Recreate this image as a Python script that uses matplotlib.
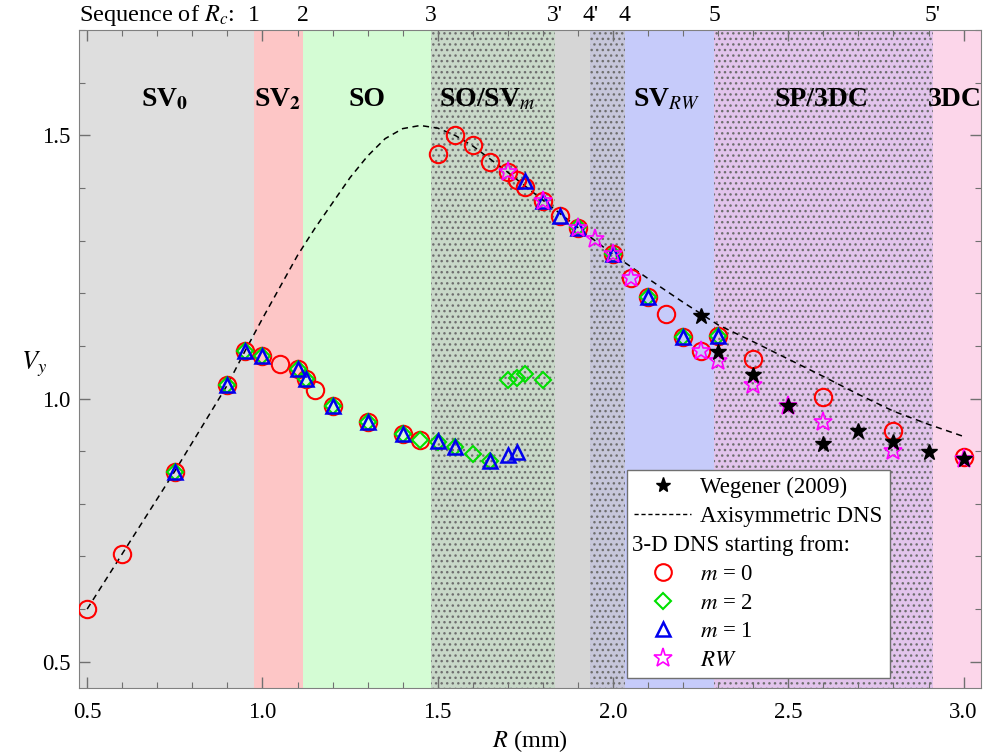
import matplotlib
matplotlib.use('Agg')
import matplotlib.pyplot as plt
import matplotlib.transforms as mtransforms
from matplotlib.lines import Line2D
from matplotlib.ticker import MultipleLocator, FormatStrFormatter

plt.rcParams['font.family'] = ['Liberation Serif', 'DejaVu Serif']
plt.rcParams['mathtext.fontset'] = 'stix'

# axisymmetric DNS curve
axi_R = [0.5, 0.6, 0.75, 0.9, 0.95, 1.0, 1.05, 1.1, 1.15, 1.2, 1.25, 1.3, 1.35,
         1.4, 1.45, 1.5, 1.55, 1.6, 1.7, 1.8, 1.9, 2.0, 2.1, 2.2, 2.3, 2.4,
         2.5, 2.6, 2.7, 2.8, 2.9, 3.0]
axi_V = [0.600, 0.705, 0.862, 1.026, 1.090, 1.152, 1.212, 1.272, 1.324, 1.372,
         1.420, 1.461, 1.494, 1.513, 1.519, 1.514, 1.500, 1.480, 1.430, 1.377,
         1.325, 1.274, 1.228, 1.183, 1.140, 1.108, 1.075, 1.042, 1.008, 0.976,
         0.951, 0.928]

# Wegener (2009)
weg_R = [2.25, 2.30, 2.40, 2.50, 2.60, 2.70, 2.80, 2.90, 3.00]
weg_V = [1.157, 1.088, 1.044, 0.985, 0.914, 0.939, 0.917, 0.898, 0.885]

# 3-D DNS, m = 0
m0_R = [0.5, 0.6, 0.75, 0.9, 0.95, 1.0, 1.05, 1.1, 1.125, 1.15, 1.2, 1.3, 1.4,
        1.45, 1.5, 1.55, 1.6, 1.65, 1.7, 1.725, 1.75, 1.8, 1.85, 1.9, 2.0,
        2.05, 2.1, 2.15, 2.2, 2.25, 2.3, 2.4, 2.6, 2.8, 3.0]
m0_V = [0.600, 0.705, 0.860, 1.026, 1.091, 1.080, 1.065, 1.057, 1.038, 1.016,
        0.985, 0.956, 0.933, 0.921, 1.465, 1.500, 1.481, 1.449, 1.430, 1.416,
        1.402, 1.375, 1.347, 1.325, 1.274, 1.229, 1.193, 1.160, 1.117, 1.091,
        1.118, 1.076, 1.003, 0.939, 0.889]

# 3-D DNS, m = 2
m2_R = [0.75, 0.9, 0.95, 1.0, 1.1, 1.125, 1.2, 1.3, 1.4, 1.45, 1.5, 1.55, 1.6,
        1.65, 1.7, 1.725, 1.75, 1.8, 1.9, 2.0, 2.1, 2.2, 2.3]
m2_V = [0.860, 1.026, 1.091, 1.080, 1.057, 1.038, 0.985, 0.956, 0.933, 0.921,
        0.917, 0.907, 0.895, 0.882, 1.035, 1.040, 1.047, 1.035, 1.327, 1.274,
        1.193, 1.117, 1.118]

# 3-D DNS, m = 1
m1_R = [0.75, 0.9, 0.95, 1.0, 1.1, 1.125, 1.2, 1.3, 1.4, 1.5, 1.55, 1.65, 1.7,
        1.725, 1.75, 1.8, 1.85, 1.9, 2.0, 2.1, 2.2, 2.3]
m1_V = [0.860, 1.026, 1.091, 1.080, 1.057, 1.038, 0.985, 0.956, 0.933, 0.919,
        0.908, 0.882, 0.893, 0.898, 1.414, 1.375, 1.347, 1.325, 1.274, 1.193,
        1.117, 1.118]

# 3-D DNS, RW
rw_R = [1.7, 1.8, 1.9, 1.95, 2.0, 2.05, 2.25, 2.3, 2.4, 2.5, 2.6, 2.8, 3.0]
rw_V = [1.430, 1.375, 1.325, 1.304, 1.274, 1.229, 1.091, 1.071, 1.025, 0.985,
        0.955, 0.901, 0.885]

# flow regimes
region_edges = [0.4, 0.975, 1.115, 1.48, 1.835, 1.935, 2.033, 2.288, 2.912, 3.2]
region_colors = ['#dedede', '#fdc6c6', '#d4fcd4', '#c8d8c8', '#d6d6d6',
                 '#c6c6da', '#c6cbfa', '#e2c4ec', '#fcd6ea']
region_dotted = [False, False, False, True, False, True, False, True, False]
region_names = [r'SV$_{\mathbf{0}}$', r'SV$_{\mathbf{2}}$', 'SO',
                r'SO/SV$_{\mathit{m}}$', r'SV$_{\mathit{RW}}$', 'SP/3DC', '3DC']
region_name_R = [0.722, 1.042, 1.298, 1.64, 2.153, 2.595, 2.974]

seq_labels = ['1', '2', '3', "3'", "4'", '4', '5', "5'"]
seq_R = [0.975, 1.115, 1.48, 1.835, 1.935, 2.033, 2.288, 2.912]

fig = plt.figure(figsize=(9.89, 7.56), dpi=100)
ax = fig.add_axes([0.080, 0.090, 0.912, 0.870])

for i in range(len(region_colors)):
    if region_dotted[i]:
        ax.axvspan(region_edges[i], region_edges[i + 1], facecolor=region_colors[i],
                   edgecolor='#6e6e6e', hatch='...', linewidth=0, zorder=0)
    else:
        ax.axvspan(region_edges[i], region_edges[i + 1], facecolor=region_colors[i],
                   linewidth=0, zorder=0)

ax.plot(axi_R, axi_V, color='k', ls=(0, (4, 3)), lw=1.1, zorder=2)

ax.plot(m0_R, m0_V, ls='none', marker='o', ms=12.5, mfc='none', mec='#ff0000',
        mew=1.5, zorder=3)
ax.plot(m2_R, m2_V, ls='none', marker='D', ms=8, mfc='none', mec='#00e000',
        mew=1.5, zorder=4)
ax.plot(m1_R, m1_V, ls='none', marker='^', ms=10, mfc='none', mec='#0000ee',
        mew=1.8, zorder=5)
ax.plot(rw_R, rw_V, ls='none', marker='*', ms=14, mfc='none', mec='#ff00ff',
        mew=1.2, zorder=6)
ax.plot(weg_R, weg_V, ls='none', marker='*', ms=12, color='k', zorder=7)

ax.set_xlim(0.477, 3.05)
ax.set_ylim(0.45, 1.70)
ax.xaxis.set_major_locator(MultipleLocator(0.5))
ax.xaxis.set_minor_locator(MultipleLocator(0.1))
ax.yaxis.set_major_locator(MultipleLocator(0.5))
ax.yaxis.set_minor_locator(MultipleLocator(0.1))
ax.xaxis.set_major_formatter(FormatStrFormatter('%.1f'))
ax.yaxis.set_major_formatter(FormatStrFormatter('%.1f'))
ax.tick_params(which='both', direction='in', top=True, right=True,
               color='#707070', labelsize=16.5)
ax.tick_params(which='major', length=8, width=1)
ax.tick_params(which='minor', length=4, width=0.8)
ax.tick_params(axis='x', pad=10)
ax.tick_params(axis='y', pad=6)
for sp in ax.spines.values():
    sp.set_color('#808080')

ax.set_xlabel('$R$ (mm)', fontsize=17.5, labelpad=4)
ax.set_ylabel('$V_y$', fontsize=19, rotation=0)
ax.yaxis.set_label_coords(-0.05, 0.47)

top = mtransforms.blended_transform_factory(ax.transData, ax.transAxes)
for lab, r in zip(seq_labels, seq_R):
    ax.text(r, 1.023, lab, transform=top, ha='center', va='center', fontsize=17)
ax.text(0.92, 1.023, 'Sequence of $R_c$:', transform=top, ha='right',
        va='center', fontsize=17.5)

for name, r in zip(region_names, region_name_R):
    ax.text(r, 1.568, name, ha='center', va='center', fontsize=20,
            fontweight='bold', zorder=8)

handles = [
    Line2D([], [], ls='none', marker='*', ms=11, color='k'),
    Line2D([], [], color='k', ls=(0, (3, 2)), lw=1),
    Line2D([], [], ls='none'),
    Line2D([], [], ls='none', marker='o', ms=12, mfc='none', mec='#ff0000', mew=1.5),
    Line2D([], [], ls='none', marker='D', ms=8, mfc='none', mec='#00e000', mew=1.5),
    Line2D([], [], ls='none', marker='^', ms=10, mfc='none', mec='#0000ee', mew=1.8),
    Line2D([], [], ls='none', marker='*', ms=14, mfc='none', mec='#ff00ff', mew=1.2),
]
labels = ['Wegener (2009)', 'Axisymmetric DNS', ' ', '$m$ = 0', '$m$ = 2',
          '$m$ = 1', '$RW$']
leg = ax.legend(handles, labels, loc='upper left', bbox_to_anchor=(0.6075, 0.331),
                fontsize=16.5, frameon=True, fancybox=False, framealpha=1,
                edgecolor='#707070', handlelength=2.5, handletextpad=0.4,
                labelspacing=0.34, borderpad=0.3, borderaxespad=0)
leg.get_frame().set_linewidth(1)
leg.set_zorder(10)

fig.canvas.draw()
lb = leg.get_window_extent()
tb = leg.get_texts()[2].get_window_extent()
fig.text(lb.x0 + 5, (tb.y0 + tb.y1) / 2, '3-D DNS starting from:', fontsize=16.5,
         ha='left', va='center', transform=mtransforms.IdentityTransform(),
         zorder=20)

fig.savefig('out.png', dpi=100)
